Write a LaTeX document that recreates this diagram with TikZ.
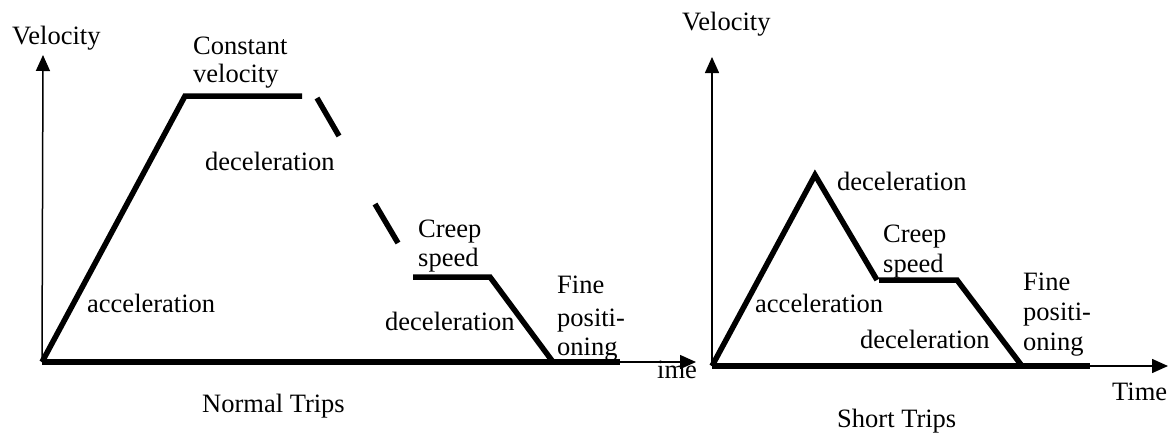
\documentclass[tikz,border=0pt]{standalone}
\usepackage{fontspec}
\setmainfont{Liberation Serif}
\usetikzlibrary{arrows.meta}
\tikzset{
  prof/.style={line width=5.5pt, line join=miter, line cap=butt},
  axis/.style={line width=1.5pt, -{Triangle[length=16pt,width=14pt]}},
  lbl/.style={font=\fontsize{26.5}{30}\selectfont, inner sep=0pt, anchor=base west},
}
\begin{document}
\begin{tikzpicture}[x=1pt,y=-1pt]
\useasboundingbox (0,0) rectangle (1170,434);
% ---------- Left: Normal Trips ----------
\coordinate (LO) at (42,362);
\coordinate (LY) at (43,55);
\coordinate (LXe) at (620,362);
\coordinate (LX) at (696,362);
\coordinate (LA) at (185,96);
\coordinate (LB) at (302,96);
\coordinate (LD1) at (317,98);
\coordinate (LD2) at (339,136);
\coordinate (LD3) at (375,204);
\coordinate (LD4) at (398,243);
\coordinate (LC1) at (413,277);
\coordinate (LC2) at (490,277);
\coordinate (LF) at (553,362);
\draw[axis] (LO) -- (LY);
\draw[axis] (LXe) -- (LX);
\draw[prof] (LO) -- (LA) -- (LB);
\draw[prof] (LD1) -- (LD2);
\draw[prof] (LD3) -- (LD4);
\draw[prof] (LC1) -- (LC2) -- (LF);
\draw[prof] (LO) -- (LXe);
\node[lbl] (lvel) at (12,44) {Velocity};
\node[lbl] (lcon1) at (193,54) {Constant};
\node[lbl] (lcon2) at (193,82) {velocity};
\node[lbl] (ldec1) at (205,170) {deceleration};
\node[lbl] (lacc) at (87,312) {acceleration};
\node[lbl] (lcr1) at (418,237) {Creep};
\node[lbl] (lcr2) at (418,266) {speed};
\node[lbl] (ldec2) at (385,330) {deceleration};
\node[lbl] (lfp1) at (557,293) {Fine};
\node[lbl] (lfp2) at (557,326) {positi-};
\node[lbl] (lfp3) at (557,355) {oning};
\node[lbl] (ltime) at (657,378) {ime};
\node[lbl] (ltitle) at (202,412) {Normal Trips};
% ---------- Right: Short Trips ----------
\coordinate (RO) at (712,366);
\coordinate (RY) at (712,57);
\coordinate (RXe) at (1090,366);
\coordinate (RX) at (1168,366);
\coordinate (RP) at (815,175);
\coordinate (RC1) at (877,280);
\coordinate (RC2) at (957,280);
\coordinate (RF) at (1022,366);
\draw[axis] (RO) -- (RY);
\draw[axis] (RXe) -- (RX);
\draw[prof] (RO) -- (RP) -- (RC1);
\draw[prof] (RC1) ++(2,0) -- (RC2) -- (RF);
\draw[prof] (RO) -- (RXe);
\node[lbl] (rvel) at (682,30) {Velocity};
\node[lbl] (rdec1) at (837,190) {deceleration};
\node[lbl] (rcr1) at (883,242) {Creep};
\node[lbl] (rcr2) at (883,272) {speed};
\node[lbl] (racc) at (755,312) {acceleration};
\node[lbl] (rdec2) at (860,348) {deceleration};
\node[lbl] (rfp1) at (1023,290) {Fine};
\node[lbl] (rfp2) at (1023,320) {positi-};
\node[lbl] (rfp3) at (1023,350) {oning};
\node[lbl] (rtime) at (1112,400) {Time};
\node[lbl] (rtitle) at (837,427) {Short Trips};
\end{tikzpicture}
\end{document}
